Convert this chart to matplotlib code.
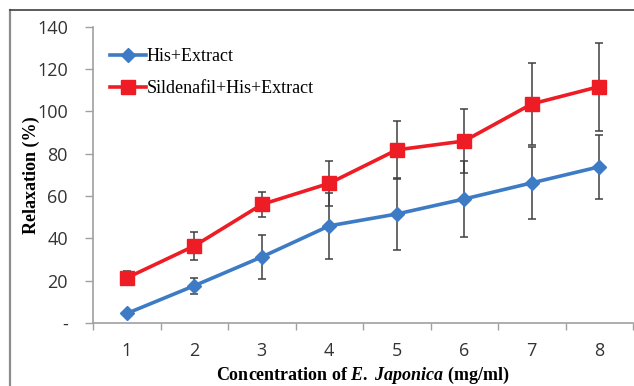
import matplotlib
matplotlib.use("AGG")
import matplotlib.pyplot as plt
from matplotlib.ticker import FixedLocator, FuncFormatter

# concentration steps (mg/ml) and relaxation means / error values
conc = [1, 2, 3, 4, 5, 6, 7, 8]
his_extract = [4.5, 17.6, 31.2, 45.9, 51.5, 58.6, 66.2, 73.8]
his_extract_err = [1.0, 3.7, 10.3, 15.7, 17.0, 17.8, 17.0, 15.1]
sild_his_extract = [21.3, 36.4, 56.0, 66.0, 81.8, 86.0, 103.5, 111.7]
sild_his_extract_err = [3.3, 6.4, 6.0, 10.6, 13.7, 15.3, 19.5, 20.8]
y_ticks = [0, 20, 40, 60, 80, 100, 120, 140]

plt.rcParams["mathtext.fontset"] = "custom"
plt.rcParams["mathtext.it"] = "Liberation Serif:italic:bold"
plt.rcParams["mathtext.rm"] = "Liberation Serif:bold"

fig = plt.figure(figsize=(6.34, 3.86), dpi=100)
ax = fig.add_axes([93 / 634, 63 / 386, 540 / 634, 296.3 / 386])

blue = "#3E7BC5"
red = "#EE1C25"
grey = "#404040"

ax.errorbar(conc, his_extract, yerr=his_extract_err, fmt="none", ecolor=grey,
            elinewidth=1.1, capsize=2.6, capthick=1.1, zorder=2)
ax.errorbar(conc, sild_his_extract, yerr=sild_his_extract_err, fmt="none", ecolor=grey,
            elinewidth=1.1, capsize=2.6, capthick=1.1, zorder=2)
ax.plot(conc, his_extract, color=blue, lw=2.6, marker="D", markersize=7.5,
        label="His+Extract", zorder=3)
ax.plot(conc, sild_his_extract, color=red, lw=2.6, marker="s", markersize=10,
        label="Sildenafil+His+Extract", zorder=3)

ax.set_xlim(0.5, 8.5)
ax.set_ylim(0, 140)

# category axis: labels at the centres, tick marks between categories
ax.xaxis.set_major_locator(FixedLocator(conc))
ax.xaxis.set_minor_locator(FixedLocator([c - 0.5 for c in conc] + [8.5]))
ax.tick_params(axis="x", which="major", length=0, pad=14, labelsize=13, labelcolor="#333333")
ax.tick_params(axis="x", which="minor", length=5, width=1, color="#A0A0A0", direction="out")

ax.set_yticks(y_ticks)
ax.yaxis.set_major_formatter(FuncFormatter(lambda v, p: "-" if v == 0 else f"{v:.0f}"))
ax.tick_params(axis="y", length=6, width=1, color="#A0A0A0", pad=12, labelsize=13,
               labelcolor="#333333")
for lab in ax.get_xticklabels() + ax.get_yticklabels():
    lab.set_family("Open Sans")

for side in ["top", "right"]:
    ax.spines[side].set_visible(False)
for side in ["left", "bottom"]:
    ax.spines[side].set_color("#A0A0A0")
    ax.spines[side].set_linewidth(1.2)

ax.set_ylabel("Relaxation (%)", family="Liberation Serif", fontweight="bold", fontsize=13)
ax.yaxis.set_label_coords(-0.098, 0.5)
ax.set_xlabel(r"Concentration of $\mathit{E.}$ $\mathit{Japonica}$ (mg/ml)",
              family="Liberation Serif", fontweight="bold", fontsize=13, labelpad=3)

leg = ax.legend(loc="upper left", bbox_to_anchor=(0.018, 0.952), frameon=False,
                prop={"family": "Liberation Serif", "size": 13}, handlelength=2.0,
                handletextpad=0.05, labelspacing=0.85, borderaxespad=0)

# outer frame lines along the left and top edges
fig.add_artist(plt.Line2D([10 / 634, 10 / 634], [0, 1 - 10 / 386], transform=fig.transFigure,
                          color="#8C8C8C", lw=1.6))
fig.add_artist(plt.Line2D([10 / 634, 1], [1 - 10 / 386, 1 - 10 / 386], transform=fig.transFigure,
                          color="#404040", lw=1.2))

fig.savefig("out.png", dpi=100)
